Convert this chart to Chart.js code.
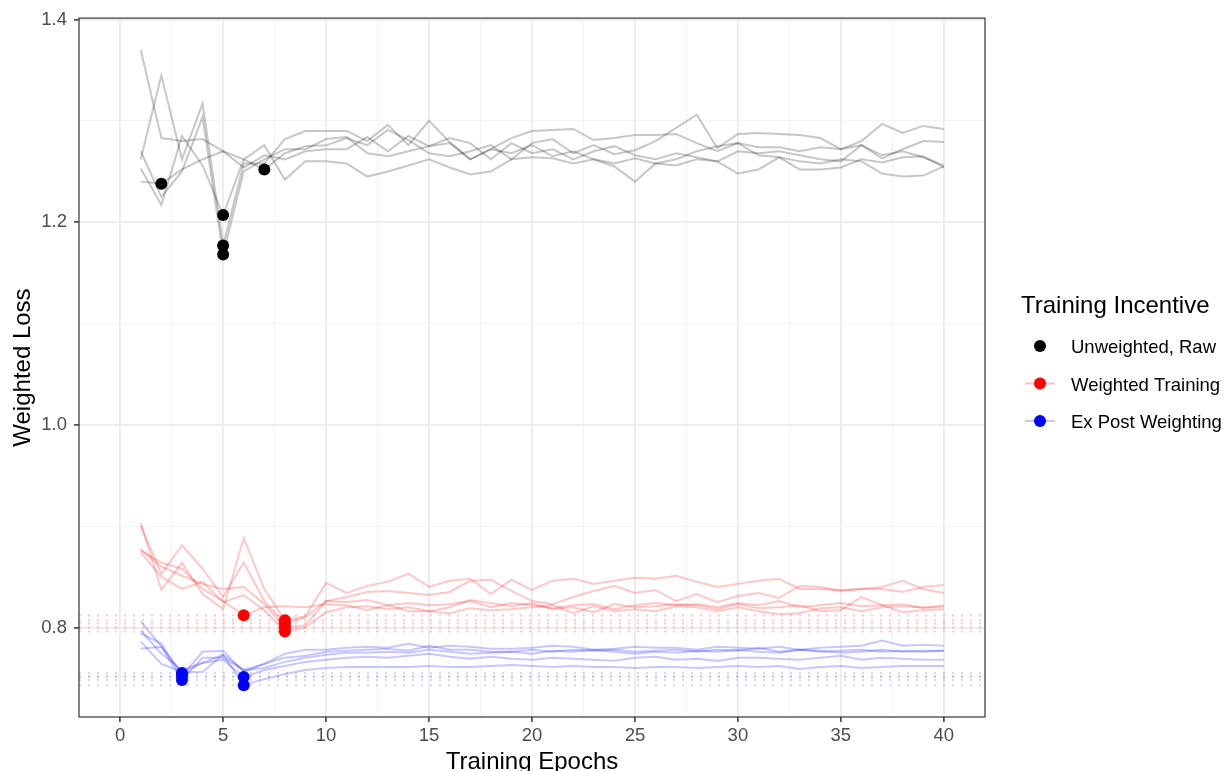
<!DOCTYPE html>
<html>
<head>
<meta charset="utf-8">
<title>Weighted Loss</title>
<script src="https://cdn.jsdelivr.net/npm/chart.js@4.4.1/dist/chart.umd.min.js"></script>
<style>
  html, body { margin: 0; padding: 0; background: #fff; }
  canvas { display: block; }
</style>
</head>
<body>
<canvas id="lossChart" width="1228" height="771"></canvas>
<script>

/* =====================
  data
===================== */

var epochs = [1,2,3,4,5,6,7,8,9,10,11,12,13,14,15,16,17,18,19,20,
              21,22,23,24,25,26,27,28,29,30,31,32,33,34,35,36,37,38,39,40];

// unweighted, raw (5 runs)
var rawRun1 = [1.240,1.238,1.252,1.262,1.270,1.254,1.266,1.262,1.270,1.272,1.272,1.284,1.270,1.285,1.275,1.278,1.262,1.272,1.268,1.276,
               1.265,1.270,1.262,1.258,1.263,1.258,1.262,1.270,1.275,1.278,1.266,1.264,1.252,1.252,1.254,1.262,1.259,1.264,1.265,1.254];
var rawRun2 = [1.253,1.217,1.285,1.256,1.207,1.262,1.276,1.242,1.260,1.260,1.258,1.245,1.250,1.256,1.262,1.254,1.247,1.250,1.262,1.264,
               1.263,1.258,1.262,1.255,1.240,1.258,1.256,1.262,1.260,1.248,1.252,1.264,1.260,1.258,1.262,1.260,1.248,1.245,1.246,1.255];
var rawRun3 = [1.262,1.345,1.262,1.317,1.177,1.258,1.258,1.282,1.290,1.290,1.290,1.280,1.296,1.276,1.300,1.279,1.262,1.272,1.283,1.290,
               1.291,1.292,1.281,1.283,1.286,1.286,1.287,1.278,1.270,1.278,1.274,1.274,1.270,1.274,1.272,1.276,1.263,1.272,1.280,1.279];
var rawRun4 = [1.270,1.225,1.250,1.304,1.168,1.250,1.262,1.272,1.272,1.282,1.284,1.268,1.265,1.270,1.275,1.283,1.278,1.262,1.278,1.268,
               1.272,1.262,1.270,1.275,1.266,1.262,1.268,1.264,1.260,1.270,1.268,1.270,1.266,1.262,1.260,1.276,1.266,1.270,1.264,1.256];
var rawRun5 = [1.370,1.283,1.280,1.282,1.270,1.262,1.252,1.268,1.275,1.276,1.283,1.276,1.291,1.281,1.268,1.265,1.270,1.276,1.262,1.278,
               1.282,1.268,1.276,1.267,1.271,1.280,1.293,1.306,1.273,1.287,1.288,1.287,1.286,1.283,1.272,1.280,1.297,1.288,1.295,1.292];

// weighted training (5 runs)
var wtRun1 = [0.876,0.864,0.858,0.838,0.826,0.812,0.820,0.821,0.820,0.823,0.822,0.817,0.822,0.824,0.822,0.823,0.826,0.820,0.824,0.822,
              0.819,0.822,0.823,0.818,0.822,0.824,0.822,0.823,0.820,0.824,0.822,0.826,0.820,0.822,0.824,0.821,0.822,0.823,0.819,0.822];
var wtRun2 = [0.903,0.837,0.864,0.833,0.818,0.888,0.838,0.807,0.811,0.844,0.834,0.841,0.845,0.853,0.840,0.846,0.848,0.833,0.847,0.837,
              0.846,0.848,0.843,0.846,0.849,0.848,0.851,0.845,0.840,0.843,0.846,0.848,0.838,0.838,0.837,0.838,0.838,0.835,0.840,0.842];
var wtRun3 = [0.900,0.853,0.881,0.858,0.830,0.864,0.826,0.804,0.810,0.826,0.830,0.835,0.836,0.834,0.832,0.835,0.846,0.847,0.836,0.826,
              0.823,0.830,0.836,0.841,0.834,0.837,0.826,0.833,0.825,0.831,0.834,0.829,0.841,0.840,0.836,0.838,0.840,0.846,0.838,0.834];
var wtRun4 = [0.877,0.860,0.851,0.843,0.838,0.840,0.823,0.800,0.802,0.826,0.825,0.827,0.822,0.816,0.816,0.820,0.827,0.824,0.821,0.824,
              0.818,0.820,0.815,0.823,0.820,0.821,0.823,0.822,0.818,0.823,0.819,0.820,0.822,0.816,0.817,0.830,0.822,0.815,0.817,0.818];
var wtRun5 = [0.874,0.850,0.838,0.845,0.825,0.832,0.817,0.796,0.800,0.815,0.820,0.821,0.818,0.820,0.816,0.814,0.819,0.817,0.818,0.820,
              0.822,0.814,0.821,0.816,0.818,0.816,0.821,0.820,0.816,0.820,0.816,0.813,0.814,0.819,0.820,0.816,0.820,0.821,0.820,0.820];

// ex post weighting (5 runs)
var epRun1 = [0.779,0.781,0.755,0.765,0.773,0.758,0.764,0.774,0.778,0.778,0.780,0.781,0.780,0.784,0.780,0.782,0.781,0.779,0.779,0.780,
              0.782,0.781,0.778,0.779,0.781,0.780,0.780,0.778,0.781,0.780,0.779,0.781,0.778,0.780,0.781,0.782,0.787,0.782,0.783,0.782];
var epRun2 = [0.794,0.784,0.752,0.776,0.777,0.756,0.764,0.770,0.772,0.776,0.777,0.778,0.779,0.777,0.782,0.778,0.778,0.776,0.776,0.778,
              0.776,0.778,0.777,0.778,0.776,0.777,0.778,0.776,0.778,0.777,0.780,0.776,0.778,0.776,0.777,0.778,0.776,0.777,0.776,0.777];
var epRun3 = [0.806,0.781,0.748,0.770,0.770,0.758,0.760,0.766,0.770,0.773,0.775,0.775,0.776,0.775,0.778,0.776,0.774,0.775,0.776,0.774,
              0.777,0.776,0.778,0.776,0.774,0.776,0.775,0.777,0.776,0.778,0.776,0.775,0.778,0.777,0.775,0.776,0.778,0.776,0.777,0.777];
var epRun4 = [0.797,0.774,0.758,0.765,0.768,0.751,0.758,0.762,0.766,0.768,0.770,0.771,0.770,0.772,0.774,0.771,0.769,0.771,0.769,0.768,
              0.770,0.769,0.768,0.767,0.770,0.771,0.768,0.769,0.767,0.770,0.770,0.769,0.768,0.770,0.772,0.768,0.770,0.769,0.768,0.768];
var epRun5 = [0.786,0.764,0.756,0.756,0.773,0.743,0.749,0.754,0.758,0.760,0.761,0.761,0.761,0.761,0.762,0.761,0.761,0.762,0.763,0.762,
              0.761,0.762,0.761,0.761,0.760,0.761,0.761,0.760,0.761,0.762,0.761,0.762,0.759,0.761,0.762,0.760,0.761,0.762,0.762,0.762];

var rawRuns = [rawRun1, rawRun2, rawRun3, rawRun4, rawRun5];
var wtRuns = [wtRun1, wtRun2, wtRun3, wtRun4, wtRun5];
var epRuns = [epRun1, epRun2, epRun3, epRun4, epRun5];

var groupNames = ["Unweighted, Raw", "Weighted Training", "Ex Post Weighting"];

var xMajorTicks = [0, 5, 10, 15, 20, 25, 30, 35, 40];
var xMinorTicks = [2.5, 7.5, 12.5, 17.5, 22.5, 27.5, 32.5, 37.5];
var yMajorTicks = [0.8, 1.0, 1.2, 1.4];
var yMinorTicks = [0.9, 1.1, 1.3];

/* =====================
  helpers
===================== */

var FONT = '"Liberation Sans", Arial, Helvetica, sans-serif';
var X_MIN = -2, X_MAX = 42;

function toPoints(values) {
  return values.map(function(v, i) { return { x: epochs[i], y: v }; });
}

// best epoch of a run
function bestOf(values) {
  var k = 0;
  for (var i = 1; i < values.length; i++) {
    if (values[i] < values[k]) k = i;
  }
  return { x: epochs[k], y: values[k] };
}

function isIn(list, v) {
  for (var i = 0; i < list.length; i++) {
    if (Math.abs(list[i] - v) < 1e-9) return true;
  }
  return false;
}

var lineColors = ["rgba(0,0,0,0.22)", "rgba(255,0,0,0.22)", "rgba(0,0,255,0.22)"];
var dotColors = ["#000000", "#ff0000", "#0000ff"];
var hlineColors = [null, "rgba(255,0,0,0.22)", "rgba(0,0,255,0.16)"];

var datasets = [];
[rawRuns, wtRuns, epRuns].forEach(function(runs, g) {
  // min points on top
  datasets.push({
    label: groupNames[g],
    data: runs.map(bestOf),
    showLine: false,
    pointRadius: 6,
    pointHoverRadius: 6,
    pointBorderWidth: 0,
    pointBackgroundColor: dotColors[g],
    backgroundColor: dotColors[g],
    order: 0
  });
  runs.forEach(function(run) {
    datasets.push({
      data: toPoints(run),
      borderColor: lineColors[g],
      borderWidth: 2,
      pointRadius: 0,
      tension: 0,
      fill: false,
      order: 2
    });
    if (hlineColors[g]) {
      var best = bestOf(run).y;
      datasets.push({
        data: [{ x: X_MIN, y: best }, { x: X_MAX, y: best }],
        borderColor: hlineColors[g],
        borderWidth: 2,
        borderDash: [2, 7],
        pointRadius: 0,
        fill: false,
        order: 1
      });
    }
  });
});

/* =====================
  frame, titles, legend
===================== */

var decor = {
  id: 'decor',
  afterDraw: function(chart) {
    var ctx = chart.ctx;
    var a = chart.chartArea;
    ctx.save();

    // panel border
    ctx.strokeStyle = '#333333';
    ctx.lineWidth = 1.2;
    ctx.strokeRect(a.left, a.top, a.right - a.left, a.bottom - a.top);

    // axis titles
    ctx.fillStyle = '#000000';
    ctx.font = '24px ' + FONT;
    ctx.textAlign = 'center';
    ctx.textBaseline = 'alphabetic';
    ctx.fillText('Training Epochs', (a.left + a.right) / 2, 769);
    ctx.save();
    ctx.translate(30, (a.top + a.bottom) / 2);
    ctx.rotate(-Math.PI / 2);
    ctx.fillText('Weighted Loss', 0, 0);
    ctx.restore();

    // legend
    ctx.textAlign = 'left';
    ctx.fillText('Training Incentive', 1021, 313);
    ctx.font = '18.5px ' + FONT;
    var rows = [346, 383.5, 421];
    for (var g = 0; g < 3; g++) {
      var y = rows[g];
      if (g > 0) {
        ctx.strokeStyle = lineColors[g];
        ctx.lineWidth = 2;
        ctx.beginPath();
        ctx.moveTo(1025, y);
        ctx.lineTo(1055, y);
        ctx.stroke();
      }
      ctx.fillStyle = dotColors[g];
      ctx.beginPath();
      ctx.arc(1040, y, 6, 0, Math.PI * 2);
      ctx.fill();
      ctx.fillStyle = '#000000';
      ctx.fillText(groupNames[g], 1071, y + 7);
    }
    ctx.restore();
  }
};

function gridOpts(majors) {
  return {
    color: function(c) { return c.tick && isIn(majors, c.tick.value) ? '#ebebeb' : '#f2f2f2'; },
    lineWidth: function(c) { return c.tick && isIn(majors, c.tick.value) ? 1.8 : 0.9; },
    tickColor: function(c) { return c.tick && isIn(majors, c.tick.value) ? '#333333' : 'rgba(0,0,0,0)'; },
    tickLength: 5,
    tickWidth: 1.5,
    drawTicks: true
  };
}

var config = {
  type: 'line',
  data: { datasets: datasets },
  plugins: [decor],
  options: {
    responsive: false,
    animation: false,
    devicePixelRatio: 1,
    layout: { padding: { left: 0, top: 17, right: 243, bottom: 0 } },
    plugins: {
      legend: { display: false },
      tooltip: { enabled: false }
    },
    scales: {
      x: {
        type: 'linear',
        min: X_MIN,
        max: X_MAX,
        afterBuildTicks: function(scale) {
          scale.ticks = xMajorTicks.concat(xMinorTicks).sort(function(p, q) { return p - q; })
            .map(function(v) { return { value: v }; });
        },
        afterFit: function(scale) { scale.height = 54; },
        grid: gridOpts(xMajorTicks),
        border: { display: false },
        ticks: {
          autoSkip: false,
          maxRotation: 0,
          padding: 3,
          color: '#4d4d4d',
          font: { family: FONT, size: 18.5 },
          callback: function(v) { return isIn(xMajorTicks, v) ? String(v) : ''; }
        }
      },
      y: {
        type: 'linear',
        min: 0.7116,
        max: 1.4014,
        afterBuildTicks: function(scale) {
          scale.ticks = yMajorTicks.concat(yMinorTicks).sort(function(p, q) { return p - q; })
            .map(function(v) { return { value: v }; });
        },
        afterFit: function(scale) { scale.width = 79; },
        grid: gridOpts(yMajorTicks),
        border: { display: false },
        ticks: {
          autoSkip: false,
          padding: 7,
          color: '#4d4d4d',
          font: { family: FONT, size: 18.5 },
          callback: function(v) { return isIn(yMajorTicks, v) ? v.toFixed(1) : ''; }
        }
      }
    }
  }
};

var can = document.getElementById('lossChart');
var lossChart = new Chart(can.getContext('2d'), config);
</script>
</body>
</html>
